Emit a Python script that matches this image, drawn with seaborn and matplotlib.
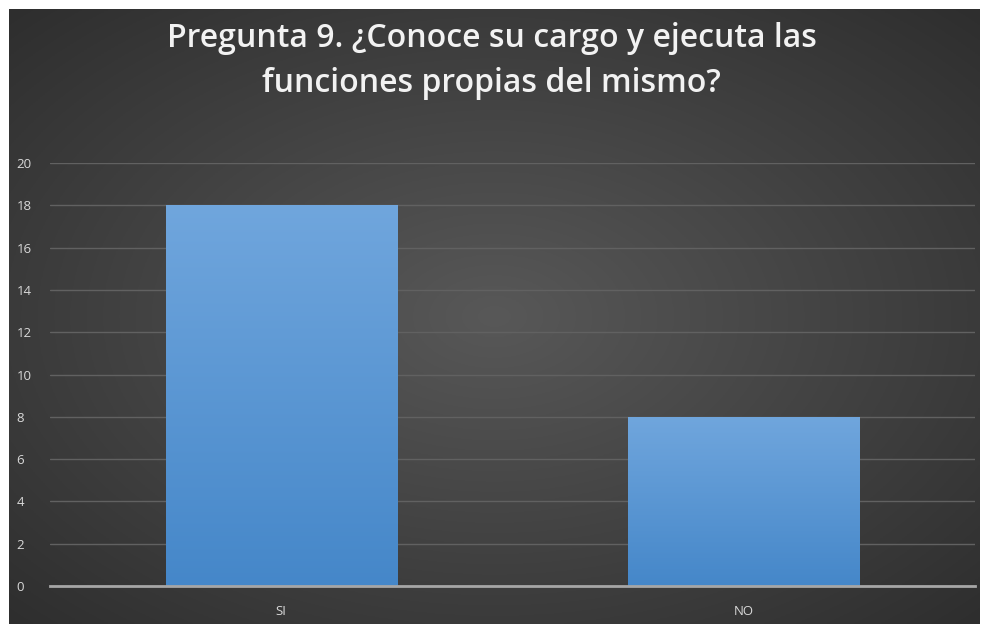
import numpy as np
import pandas as pd
import matplotlib
matplotlib.use("Agg")
import matplotlib.pyplot as plt
import seaborn as sns

categories = ["SI", "NO"]
values = [18, 8]
yticks = [0, 2, 4, 6, 8, 10, 12, 14, 16, 18, 20]
title = "Pregunta 9. ¿Conoce su cargo y ejecuta las\nfunciones propias del mismo?"

sns.set_theme(style="white")
plt.rcParams['font.family'] = ['Open Sans', 'DejaVu Sans']

W, H = 983, 624
fig = plt.figure(figsize=(W / 100, H / 100), dpi=100)
fig.patch.set_facecolor("white")

# dark background panel with radial gradient
bx0, by0, bx1, by1 = 9, 9, 980, 624
bg = fig.add_axes([bx0 / W, 1 - by1 / H, (bx1 - bx0) / W, (by1 - by0) / H], zorder=-10)
yy, xx = np.mgrid[-1:1:300j, -1:1:400j]
r = np.sqrt(xx ** 2 + yy ** 2) / np.sqrt(2)
light = np.array([0x58, 0x58, 0x58]) / 255
dark = np.array([0x2e, 0x2e, 0x2e]) / 255
img = light[None, None, :] * (1 - r[..., None]) + dark[None, None, :] * r[..., None]
bg.imshow(img, aspect="auto", extent=[0, 1, 0, 1])
bg.set_axis_off()

# plot axes: left 50, right 975, y0 at 586, y20 at 163
ax_l, ax_r = 50, 975
y0px, y20px = 586, 163
ax = fig.add_axes([ax_l / W, 1 - y0px / H, (ax_r - ax_l) / W, (y0px - y20px) / H])
ax.patch.set_alpha(0)

df = pd.DataFrame({"cat": categories, "val": values})
sns.barplot(data=df, x="cat", y="val", ax=ax, width=0.5, color="#5b9bd5",
            edgecolor="none", saturation=1)
ax.set_ylim(0, 20)
ax.set_xlim(-0.5, 1.5)
ax.set_yticks(yticks)
ax.set_xlabel("")
ax.set_ylabel("")

# gradient fill for bars
grad = np.linspace(0, 1, 256)[:, None]
top = np.array([0x70, 0xa6, 0xdd]) / 255
bot = np.array([0x45, 0x87, 0xc9]) / 255
gimg = top[None, None, :] * (1 - grad[..., None]) + bot[None, None, :] * grad[..., None]
for p in ax.patches:
    x, y = p.get_x(), p.get_y()
    w, h = p.get_width(), p.get_height()
    im = ax.imshow(gimg, extent=[x, x + w, y, y + h], aspect="auto", zorder=2)
    im.set_clip_path(p)
ax.set_xlim(-0.5, 1.5)
ax.set_ylim(0, 20)

ax.grid(axis="y", color="#616161", linewidth=1.0)
ax.set_axisbelow(True)
for s in ["top", "right", "left"]:
    ax.spines[s].set_visible(False)
ax.spines["bottom"].set_color("#a6a6a6")
ax.spines["bottom"].set_linewidth(2)
ax.tick_params(axis="both", length=0, colors="#d9d9d9", labelsize=9.5)
ax.tick_params(axis="y", pad=24)
for lab in ax.get_yticklabels():
    lab.set_horizontalalignment("left")
ax.tick_params(axis="x", pad=14)

fig.text(0.5, 1 - 61 / H, title, ha="center", va="center", color="#f2f2f2",
         fontsize=23, fontweight="semibold", linespacing=1.45)

fig.savefig("out.png", dpi=100, facecolor=fig.get_facecolor())
